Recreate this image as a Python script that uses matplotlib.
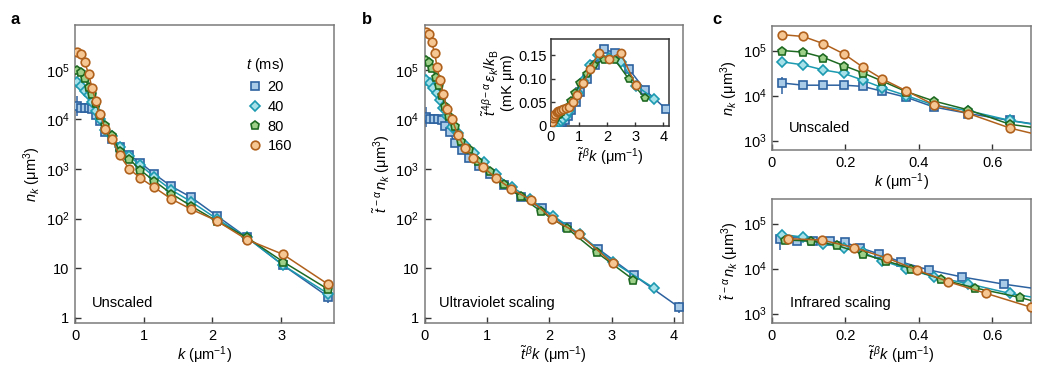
import numpy as np
import matplotlib
matplotlib.use("Agg")
import matplotlib.pyplot as plt
from matplotlib.ticker import FixedLocator, FuncFormatter, NullLocator
from matplotlib.lines import Line2D

plt.rcParams['font.family'] = ['Liberation Sans', 'DejaVu Sans']
plt.rcParams['mathtext.fontset'] = 'custom'
plt.rcParams['mathtext.rm'] = 'Liberation Sans'
plt.rcParams['mathtext.it'] = 'Liberation Sans:italic'
plt.rcParams['mathtext.bf'] = 'Liberation Sans:bold'
plt.rcParams['font.size'] = 10

# --- DATA ---
times = ['20', '40', '80', '160']

# unscaled momenta, same grid for every hold time
k = [0.028, 0.085, 0.14, 0.196, 0.247, 0.30, 0.365, 0.44, 0.535, 0.648,
     0.79, 0.95, 1.15, 1.40, 1.69, 2.06, 2.50, 3.03, 3.68]
n_20 = [1.9e4, 1.7e4, 1.7e4, 1.7e4, 1.6e4, 1.25e4, 9.2e3, 5.6e3, 4.0e3, 2.8e3,
        1.9e3, 1.35e3, 800, 450, 270, 115, 42, 11.5, 2.7]
n_40 = [5.6e4, 4.8e4, 3.7e4, 3.1e4, 2.2e4, 1.5e4, 1.0e4, 6.2e3, 4.6e3, 2.8e3,
        1.8e3, 1.2e3, 700, 380, 220, 100, 42, 11.5, 3.1]
n_80 = [1.0e5, 9.2e4, 7.0e4, 4.6e4, 3.2e4, 2.1e4, 1.23e4, 7.6e3, 4.8e3, 2.3e3,
        1.6e3, 950, 580, 320, 180, 90, 42, 13.5, 3.8]
n_160 = [2.25e5, 2.05e5, 1.42e5, 8.4e4, 4.3e4, 2.35e4, 1.28e4, 6.3e3, 4.0e3, 1.9e3,
         1.0e3, 660, 430, 250, 155, 91, 38, 19, 4.8]

# ultraviolet scaling (panel b)
uv_x_20 = [0.031, 0.094, 0.155, 0.218, 0.274, 0.333, 0.405, 0.49, 0.594, 0.72,
           0.88, 1.05, 1.28, 1.55, 1.88, 2.29, 2.78, 3.36, 4.08]
uv_y_20 = [1.14e4, 1.02e4, 1.02e4, 1.02e4, 9.6e3, 7.5e3, 5.5e3, 3.3e3, 2.4e3, 1.68e3,
           1.14e3, 810, 480, 270, 162, 69, 25, 7.2, 1.65]
uv_x_40 = [0.028, 0.085, 0.14, 0.196, 0.247, 0.30, 0.365, 0.44, 0.535, 0.648,
           0.79, 0.95, 1.15, 1.40, 1.69, 2.06, 2.50, 3.03, 3.68]
uv_y_40 = [6.3e4, 5.5e4, 4.3e4, 3.45e4, 2.5e4, 1.7e4, 1.15e4, 7.1e3, 5.3e3, 3.1e3,
           2.07e3, 1.38e3, 800, 440, 250, 115, 48, 13.2, 4.0]
uv_x_80 = [0.025, 0.077, 0.127, 0.178, 0.225, 0.273, 0.332, 0.40, 0.487, 0.59,
           0.72, 0.865, 1.05, 1.27, 1.54, 1.87, 2.28, 2.76, 3.35]
uv_y_80 = [1.55e5, 1.43e5, 1.09e5, 7.1e4, 5.0e4, 3.1e4, 1.86e4, 1.16e4, 7.4e3, 3.6e3,
           2.5e3, 1.47e3, 900, 500, 280, 140, 65, 21, 5.9]
uv_x_160 = [0.023, 0.07, 0.115, 0.16, 0.203, 0.246, 0.30, 0.36, 0.44, 0.53,
            0.65, 0.78, 0.94, 1.15, 1.39, 1.70, 2.05, 2.48, 3.02]
uv_y_160 = [5.7e5, 5.2e5, 3.6e5, 2.2e5, 1.12e5, 6.2e4, 3.3e4, 1.64e4, 1.04e4, 4.9e3,
            2.6e3, 1.7e3, 1.1e3, 650, 400, 240, 99, 49, 12.5]

# rescaled energy spectrum (inset)
en_20 = [0.0, 0.0, 0.001, 0.002, 0.003, 0.004, 0.007, 0.011, 0.02, 0.033,
         0.05, 0.072, 0.10, 0.13, 0.163, 0.155, 0.12, 0.075, 0.036]
en_40 = [0.002, 0.003, 0.004, 0.005, 0.007, 0.008, 0.01, 0.013, 0.02, 0.03,
         0.05, 0.07, 0.095, 0.13, 0.15, 0.145, 0.135, 0.085, 0.057]
en_80 = [0.005, 0.008, 0.012, 0.016, 0.02, 0.022, 0.025, 0.028, 0.035, 0.04,
         0.052, 0.07, 0.09, 0.11, 0.13, 0.14, 0.14, 0.10, 0.058]
en_160 = [0.008, 0.015, 0.02, 0.025, 0.028, 0.03, 0.032, 0.033, 0.035, 0.037,
          0.04, 0.05, 0.065, 0.09, 0.12, 0.155, 0.142, 0.155, 0.086]

# infrared scaling (panel c, bottom)
ir_x_20 = [0.022, 0.068, 0.112, 0.157, 0.198, 0.24, 0.292, 0.352, 0.428, 0.518, 0.632, 0.76, 0.92]
ir_y_20 = [4.6e4, 4.1e4, 4.1e4, 4.1e4, 3.8e4, 2.9e4, 2.1e4, 1.4e4, 9.3e3, 6.5e3, 4.5e3, 3.2e3, 1.9e3]
ir_x_40 = [0.028, 0.085, 0.14, 0.196, 0.247, 0.30, 0.365, 0.44, 0.535, 0.648, 0.79]
ir_y_40 = [5.7e4, 5.0e4, 3.6e4, 2.9e4, 2.3e4, 1.5e4, 1.0e4, 6.6e3, 4.6e3, 2.8e3, 1.8e3]
ir_x_80 = [0.035, 0.107, 0.176, 0.247, 0.311, 0.378, 0.46, 0.554, 0.674, 0.816]
ir_y_80 = [4.3e4, 4.1e4, 3.3e4, 2.1e4, 1.48e4, 1.0e4, 5.8e3, 3.7e3, 2.3e3, 1.1e3]
ir_x_160 = [0.045, 0.136, 0.224, 0.314, 0.395, 0.48, 0.584, 0.704, 0.856]
ir_y_160 = [4.6e4, 4.3e4, 2.9e4, 1.7e4, 9.3e3, 5.1e3, 2.8e3, 1.4e3, 800]

# error bars on the 20 ms data: (x, low, high)
err_a = [(0.028, 1.2e4, 3.0e4), (3.68, 2.0, 3.5)]
err_b = [(0.031, 7.0e3, 1.8e4), (4.08, 1.25, 2.1)]
err_c_ir = [(0.022, 2.6e4, 6.5e4)]

# --- STYLE ---
edge = ['#2d62a0', '#1b9ab0', '#1f6a22', '#b0611c']
fill = ['#a9cbe8', '#a6e1e9', '#9fd089', '#f6c693']
marks = ['s', 'D', 'p', 'o']
msize = [5.8, 5.2, 6.4, 6.2]
spine_col = '#7a7a7a'


def draw(ax, xs, ys, i, ms_scale=1.0):
    ax.plot(xs, ys, color=edge[i], lw=1.1, marker=marks[i], ms=msize[i] * ms_scale,
            mfc=fill[i], mec=edge[i], mew=1.2, zorder=3 + i, clip_on=True)


def draw_err(ax, errs):
    for x, lo, hi in errs:
        ax.vlines(x, lo, hi, color=edge[0], lw=1.1, zorder=2)


def style(ax):
    for s in ax.spines.values():
        s.set_color(spine_col)
        s.set_linewidth(1.1)
    ax.tick_params(direction='in', length=4, width=1, color='#333333',
                   top=False, right=False, labelsize=10.5, pad=4)


def log_fmt(v, pos):
    e = int(round(np.log10(v)))
    if e == 0:
        return '1'
    if e == 1:
        return '10'
    return r'$10^{%d}$' % e


fig = plt.figure(figsize=(10.38, 3.71), dpi=100)

# ---------- panel a ----------
ax_a = fig.add_axes([0.0723, 0.1294, 0.2495, 0.8032])
for i, n in enumerate([n_20, n_40, n_80, n_160]):
    draw(ax_a, k, n, i)
draw_err(ax_a, err_a)
ax_a.set_yscale('log')
ax_a.set_xlim(0, 3.77)
ax_a.set_ylim(0.79, 8e5)
ax_a.xaxis.set_major_locator(FixedLocator([0, 1, 2, 3]))
ax_a.yaxis.set_major_locator(FixedLocator([1, 10, 1e2, 1e3, 1e4, 1e5]))
ax_a.yaxis.set_major_formatter(FuncFormatter(log_fmt))
ax_a.yaxis.set_minor_locator(NullLocator())
ax_a.set_xlabel(r'$k$ (μm$^{-1}$)', fontsize=10.5, labelpad=1.5)
ax_a.set_ylabel(r'$n_k$ (μm$^3$)', fontsize=10.5, labelpad=2)
ax_a.text(0.066, 0.067, 'Unscaled', transform=ax_a.transAxes, fontsize=10.5, va='center')
style(ax_a)
handles = [Line2D([], [], ls='none', marker=marks[i], ms=msize[i], mfc=fill[i],
                  mec=edge[i], mew=1.2) for i in range(4)]
leg = ax_a.legend(handles, times, title=r'$t$ (ms)', loc='upper left',
                  bbox_to_anchor=(0.62, 0.93), frameon=False, fontsize=10.5,
                  title_fontsize=10.5, handletextpad=0.3, labelspacing=0.4,
                  borderpad=0.2, handlelength=1.2)
leg._legend_box.align = 'left'

# ---------- panel b ----------
ax_b = fig.add_axes([0.409, 0.1294, 0.2486, 0.8032])
uv = [(uv_x_20, uv_y_20), (uv_x_40, uv_y_40), (uv_x_80, uv_y_80), (uv_x_160, uv_y_160)]
for i, (xs, ys) in enumerate(uv):
    draw(ax_b, xs, ys, i)
draw_err(ax_b, err_b)
ax_b.set_yscale('log')
ax_b.set_xlim(0, 4.14)
ax_b.set_ylim(0.79, 8e5)
ax_b.xaxis.set_major_locator(FixedLocator([0, 1, 2, 3, 4]))
ax_b.yaxis.set_major_locator(FixedLocator([1, 10, 1e2, 1e3, 1e4, 1e5]))
ax_b.yaxis.set_major_formatter(FuncFormatter(log_fmt))
ax_b.yaxis.set_minor_locator(NullLocator())
ax_b.set_xlabel(r'$\tilde{t}^{\,\beta}k$ (μm$^{-1}$)', fontsize=10.5, labelpad=1.5)
ax_b.set_ylabel(r'$\tilde{t}^{\,-\alpha}\,n_k$ (μm$^3$)', fontsize=10.5, labelpad=2)
ax_b.text(0.056, 0.067, 'Ultraviolet scaling', transform=ax_b.transAxes, fontsize=10.5, va='center')
style(ax_b)

# inset
ax_in = fig.add_axes([0.5308, 0.6617, 0.1137, 0.2323])
for i, (xs, ys) in enumerate(uv):
    draw(ax_in, xs, [en_20, en_40, en_80, en_160][i], i, ms_scale=0.95)
ax_in.set_xlim(0, 4.2)
ax_in.set_ylim(0, 0.184)
ax_in.xaxis.set_major_locator(FixedLocator([0, 1, 2, 3, 4]))
ax_in.yaxis.set_major_locator(FixedLocator([0, 0.05, 0.10, 0.15]))
ax_in.set_yticklabels(['0', '0.05', '0.10', '0.15'])
ax_in.set_xlabel(r'$\tilde{t}^{\,\beta}k$ (μm$^{-1}$)', fontsize=10.5, labelpad=1.5)
ax_in.set_ylabel('$\\tilde{t}^{\\,4\\beta-\\alpha}\\,\\varepsilon_k/k_\\mathrm{B}$\n(mK μm)',
                 fontsize=10.5, labelpad=2, linespacing=1.0)
style(ax_in)
for s in ax_in.spines.values():
    s.set_color('#333333')
ax_in.tick_params(length=3, pad=3)

# ---------- panel c ----------
ax_c1 = fig.add_axes([0.7437, 0.5957, 0.2495, 0.3342])
for i, n in enumerate([n_20, n_40, n_80, n_160]):
    draw(ax_c1, k, n, i)
ax_c1.vlines(0.028, 1.1e4, 2.6e4, color=edge[0], lw=1.1, zorder=2)
ax_c1.set_xlabel(r'$k$ (μm$^{-1}$)', fontsize=10.5, labelpad=1.5)
ax_c1.text(0.066, 0.177, 'Unscaled', transform=ax_c1.transAxes, fontsize=10.5, va='center')

ax_c2 = fig.add_axes([0.7437, 0.1294, 0.2495, 0.3342])
ir = [(ir_x_20, ir_y_20), (ir_x_40, ir_y_40), (ir_x_80, ir_y_80), (ir_x_160, ir_y_160)]
for i, (xs, ys) in enumerate(ir):
    draw(ax_c2, xs, ys, i)
draw_err(ax_c2, err_c_ir)
ax_c2.set_xlabel(r'$\tilde{t}^{\,\beta}k$ (μm$^{-1}$)', fontsize=10.5, labelpad=1.5)
ax_c2.text(0.07, 0.159, 'Infrared scaling', transform=ax_c2.transAxes, fontsize=10.5, va='center')

for ax in (ax_c1, ax_c2):
    ax.set_yscale('log')
    ax.set_xlim(0, 0.705)
    ax.set_ylim(620, 3.5e5)
    ax.xaxis.set_major_locator(FixedLocator([0, 0.2, 0.4, 0.6]))
    ax.set_xticklabels(['0', '0.2', '0.4', '0.6'])
    ax.yaxis.set_major_locator(FixedLocator([1e3, 1e4, 1e5]))
    ax.yaxis.set_major_formatter(FuncFormatter(log_fmt))
    ax.yaxis.set_minor_locator(NullLocator())
    style(ax)
ax_c1.set_ylabel(r'$n_k$ (μm$^3$)', fontsize=10.5, labelpad=2)
ax_c2.set_ylabel(r'$\tilde{t}^{\,-\alpha}\,n_k$ (μm$^3$)', fontsize=10.5, labelpad=2)

# panel letters
for x, y, s in [(0.010, 0.935, 'a'), (0.349, 0.935, 'b'), (0.686, 0.935, 'c')]:
    fig.text(x, y, s, fontsize=12, fontweight='bold')

fig.savefig('out.png', dpi=100)
